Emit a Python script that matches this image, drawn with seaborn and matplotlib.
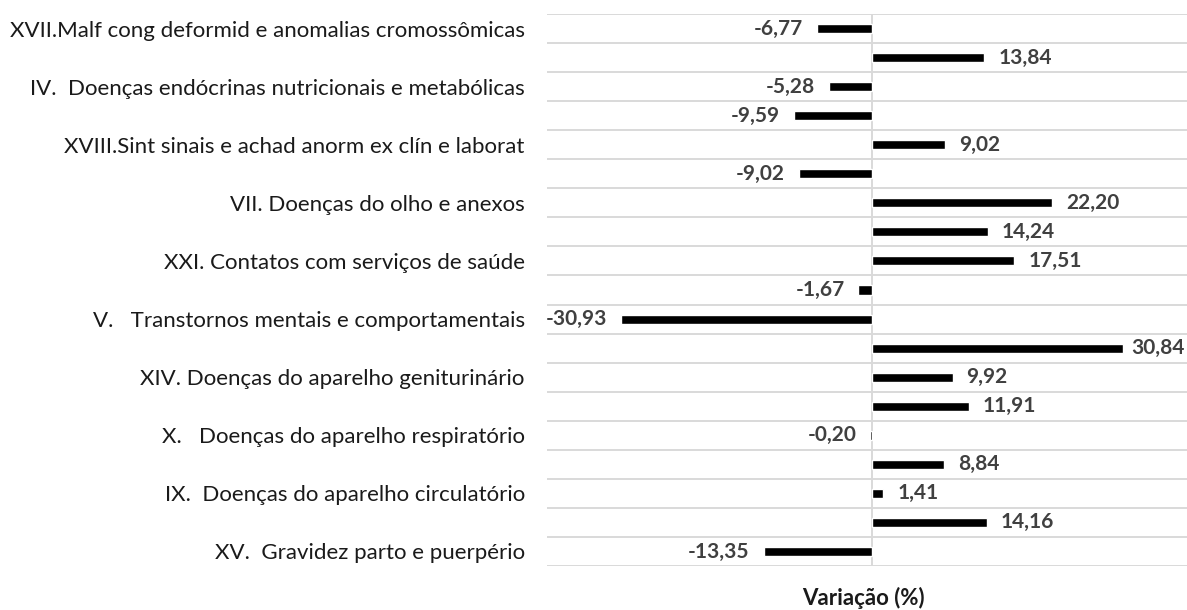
import pandas as pd
import matplotlib.pyplot as plt
import seaborn as sns

# capitulos CID (so os de posicao impar aparecem no eixo)
rotulos = [
    'XVII.Malf cong deformid e anomalias cromossômicas', '',
    'IV.  Doenças endócrinas nutricionais e metabólicas', '',
    'XVIII.Sint sinais e achad anorm ex clín e laborat', '',
    'VII. Doenças do olho e anexos', '',
    'XXI. Contatos com serviços de saúde', '',
    'V.   Transtornos mentais e comportamentais', '',
    'XIV. Doenças do aparelho geniturinário', '',
    'X.   Doenças do aparelho respiratório', '',
    'IX.  Doenças do aparelho circulatório', '',
    'XV.  Gravidez parto e puerpério',
]
variacao = [-6.77, 13.84, -5.28, -9.59, 9.02, -9.02, 22.20, 14.24, 17.51, -1.67,
            -30.93, 30.84, 9.92, 11.91, -0.20, 8.84, 1.41, 14.16, -13.35]

df = pd.DataFrame({'pos': list(range(len(variacao))), 'Variacao': variacao})

sns.set_style('white')
plt.rcParams['font.family'] = ['Lato', 'DejaVu Sans']

fig = plt.figure(figsize=(11.87, 6.10), dpi=100)
ax = fig.add_axes([547 / 1187, 1 - 566 / 610, 650 / 1187, 552 / 610])

sns.barplot(data=df, x='Variacao', y='pos', orient='h', color='black',
            width=0.31, ax=ax, saturation=1)

ax.set_xlim(-40, 40)
ax.set_ylim(18.5, -0.5)

# linhas de grade entre categorias
for k in range(len(variacao) + 1):
    ax.axhline(k - 0.5, color='#d9d9d9', lw=1.4, zorder=0)
ax.axvline(0, color='#d9d9d9', lw=1.4, zorder=0)

ax.set_yticks(range(len(rotulos)))
ax.set_yticklabels(rotulos, fontsize=16, color='#1a1a1a')
ax.tick_params(axis='y', length=0, pad=16)
ax.set_xticks([])
ax.set_xlabel('')
ax.set_ylabel('')
for s in ax.spines.values():
    s.set_visible(False)

rot = [f'{v:.2f}'.replace('.', ',') for v in variacao]
textos = ax.bar_label(ax.containers[0], labels=rot, padding=10, fontsize=15,
                      fontweight='bold', color='#404040', clip_on=False)

# puxa pra dentro o rotulo que passa da borda direita
fig.canvas.draw()
W = fig.bbox.width
for t in textos:
    bb = t.get_window_extent()
    if bb.x1 > W - 2:
        x, y = t.get_position()
        off = (bb.x1 - (W - 2)) * 72 / fig.dpi
        t.xyann = (t.xyann[0] - off, t.xyann[1])

fig.text(863 / 1187, 1 - 598 / 610, 'Variação (%)', ha='center', va='center',
         fontsize=16, fontweight='bold', color='#1a1a1a')

fig.savefig('out.png', dpi=100)
